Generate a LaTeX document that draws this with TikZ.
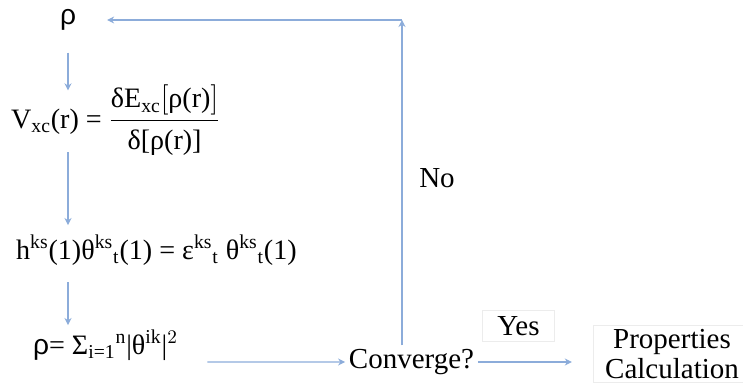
\documentclass[tikz,border=0pt]{standalone}
\usepackage{amsmath}
\usepackage{fontspec}
\setmainfont{Liberation Serif}
\newfontfamily\rhofont{Liberation Sans}
\usetikzlibrary{arrows.meta, positioning, calc}
\definecolor{flowblue}{RGB}{140,172,218}
\definecolor{faintgray}{RGB}{236,236,236}

\begin{document}
\begin{tikzpicture}[
    eq/.style={inner sep=1pt,font=\fontsize{16}{19}\selectfont},
    lbl/.style={inner sep=2pt,font=\fontsize{16.5}{19}\selectfont},
    tagbox/.style={lbl,draw=faintgray,align=center},
    arr/.style={-{Stealth[length=4pt,width=4pt]},flowblue,line width=0.8pt}
]
  \useasboundingbox (0,0) rectangle (14.86,-7.74);

  % Loop of the self-consistent cycle
  \node[eq] (rho0) at (1.36,-0.40) {{\rhofont ρ}};
  \node[eq,anchor=west] (vxc) at (0.18,-2.40)
    {V$_{\text{xc}}$(r) = $\dfrac{\text{δE}_{\text{xc}}[\text{ρ(r)}]}{\text{δ[ρ(r)]}}$};
  \node[eq,anchor=west] (hks) at (0.28,-5.00)
    {h$^{\text{ks}}$(1)θ$^{\text{ks}}{}_{\text{t}}$(1) = ε$^{\text{ks}}{}_{\text{t}}$ θ$^{\text{ks}}{}_{\text{t}}$(1)};
  \node[eq,anchor=west] (rho1) at (0.62,-6.90)
    {{\rhofont ρ}= Σ$_{\text{i=1}}{}^{\text{n}}$|θ$^{\text{ik}}$|$^{2}$};

  % Decision and result
  \node[lbl] (conv) at (8.23,-7.24) {Converge?};
  \node[lbl] (no) at (8.74,-3.56) {No};
  \node[tagbox,inner xsep=0.3cm,inner ysep=0.12cm] (yes) at (10.37,-6.52) {Yes};
  \node[tagbox,inner xsep=0.24cm,inner ysep=0.08cm] (prop) at (13.44,-7.08)
    {Properties\\[-2pt]Calculation};
  \coordinate (turn) at (8.04,-0.40);

  % Arrows down the column
  \draw[arr] ($(rho0.south)+(0,-0.40)$) -- ($(rho0.south |- vxc.north)+(0,-0.15)$);
  \draw[arr] ($(rho0.south |- vxc.south)+(0,0.10)$) -- ($(rho0.south |- hks.north)+(0,0.15)$);
  \draw[arr] ($(rho0.south |- hks.south)+(0,-0.30)$) -- ($(rho0.south |- rho1.north)+(0,0.05)$);
  \draw[arr] ($(rho1.east)+(0.55,-0.34)$) -- (conv.west);

  % No: back to the start, Yes: on to the properties
  \draw[arr] (conv.north -| turn) -- (turn);
  \draw[arr,shorten >=0.58cm] (turn) -- (rho0.east);
  \draw[arr,shorten >=0.42cm] (conv.east) -- (conv.east -| prop.west);

\end{tikzpicture}
\end{document}
